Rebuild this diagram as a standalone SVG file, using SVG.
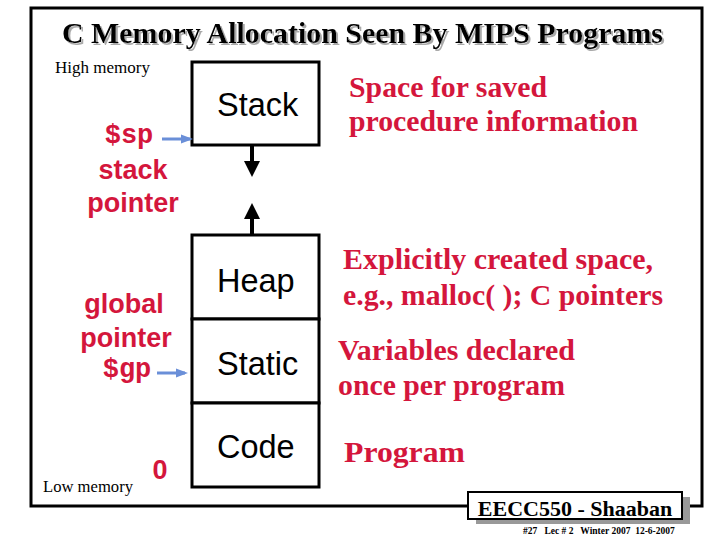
<svg xmlns="http://www.w3.org/2000/svg" width="720" height="540" viewBox="0 0 720 540">
<style>
.title{font-family:"Liberation Serif",serif;font-weight:bold;font-size:29px;fill:#000}
.mem{font-family:"Liberation Serif",serif;font-size:16px;fill:#000}
.seg{font-family:"Liberation Sans",Arial,sans-serif;font-size:32.5px;fill:#000}
.lbl{font-family:"Liberation Sans",Arial,sans-serif;font-weight:bold;font-size:27px;fill:#d4163c;text-anchor:middle}
.reg{font-family:"Liberation Mono",monospace;font-weight:bold;font-size:27px;fill:#d4163c;text-anchor:middle}
.desc{font-family:"Liberation Serif",serif;font-weight:bold;font-size:30px;fill:#d4163c}
.box{fill:#fff;stroke:#000;stroke-width:3}
.blk{stroke:#000;stroke-width:4;fill:none}
.blue{stroke:#6a8fd8;stroke-width:3;fill:none}
</style>
<defs>
<marker id="ab" markerWidth="4" markerHeight="4" refX="3" refY="2" orient="auto" markerUnits="strokeWidth"><path d="M0,0 L4,2 L0,4 Z" fill="#000"/></marker>
<marker id="ablue" markerWidth="4" markerHeight="4" refX="3" refY="2" orient="auto" markerUnits="strokeWidth"><path d="M0,0.5 L4,2 L0,3.5 Z" fill="#6a8fd8"/></marker>
<filter id="shadow" x="-5%" y="-20%" width="110%" height="150%">
<feOffset in="SourceAlpha" dx="2" dy="2" result="off"/>
<feFlood flood-color="#aaa"/>
<feComposite in2="off" operator="in" result="sh"/>
<feMerge><feMergeNode in="sh"/><feMergeNode in="SourceGraphic"/></feMerge>
</filter>
</defs>
<rect x="0" y="0" width="720" height="540" fill="#fff"/>
<g id="frame">
<path d="M468,506 L31,506 L31,8 L702,8 L702,506 L690,506" fill="none" stroke="#000" stroke-width="3"/>
</g>
<g id="title">
<text class="title" x="62" y="43" textLength="601" lengthAdjust="spacingAndGlyphs" filter="url(#shadow)">C Memory Allocation Seen By MIPS Programs</text>
</g>
<text class="mem" x="55" y="73" textLength="95" lengthAdjust="spacingAndGlyphs">High memory</text>
<text class="mem" x="43" y="492" textLength="90" lengthAdjust="spacingAndGlyphs">Low memory</text>
<g id="stack">
<rect class="box" x="192" y="62" width="127" height="83"/>
<text class="seg" x="217" y="116">Stack</text>
</g>
<g id="heap">
<rect class="box" x="192" y="235" width="127" height="84"/>
<text class="seg" x="217" y="292">Heap</text>
</g>
<g id="static">
<rect class="box" x="192" y="319" width="127" height="84"/>
<text class="seg" x="217" y="375">Static</text>
</g>
<g id="code">
<rect class="box" x="192" y="403" width="127" height="84"/>
<text class="seg" x="217" y="458">Code</text>
</g>
<g id="sp">
<text class="reg" x="129" y="143">$sp</text>
<text class="lbl" x="133" y="179">stack</text>
<text class="lbl" x="133" y="212">pointer</text>
</g>
<g id="gp">
<text class="lbl" x="124" y="313">global</text>
<text class="lbl" x="126" y="347">pointer</text>
<text class="reg" x="127" y="377">$gp</text>
</g>
<text class="lbl" x="160" y="479">0</text>
<g id="connectors">
<line class="blk" x1="252" y1="145" x2="252" y2="173" marker-end="url(#ab)"/>
<line class="blk" x1="252" y1="235" x2="252" y2="207" marker-end="url(#ab)"/>
<line class="blue" x1="162" y1="139" x2="190" y2="139" marker-end="url(#ablue)"/>
<line class="blue" x1="157" y1="373" x2="185" y2="373" marker-end="url(#ablue)"/>
</g>
<g id="descriptions">
<text class="desc" x="349" y="97" textLength="198" lengthAdjust="spacingAndGlyphs">Space for saved</text>
<text class="desc" x="349" y="131" textLength="289" lengthAdjust="spacingAndGlyphs">procedure information</text>
<text class="desc" x="343" y="269" textLength="310" lengthAdjust="spacingAndGlyphs">Explicitly created space,</text>
<text class="desc" x="343" y="305" textLength="320" lengthAdjust="spacingAndGlyphs">e.g., malloc( ); C pointers</text>
<text class="desc" x="338" y="360" textLength="237" lengthAdjust="spacingAndGlyphs">Variables declared</text>
<text class="desc" x="338" y="395" textLength="227" lengthAdjust="spacingAndGlyphs">once per program</text>
<text class="desc" x="344" y="462" textLength="121" lengthAdjust="spacingAndGlyphs">Program</text>
</g>
<g id="footer">
<rect x="476" y="497" width="214" height="27" fill="#999"/>
<rect x="468" y="492" width="214" height="27" fill="#fff" stroke="#000" stroke-width="2"/>
<text x="575" y="516" text-anchor="middle" font-family="Liberation Serif,serif" font-weight="bold" font-size="22" fill="#000">EECC550 - Shaaban</text>
<text x="523" y="534" font-family="Liberation Serif,serif" font-weight="bold" font-size="9.5" fill="#000" xml:space="preserve">#27   Lec # 2   Winter 2007  12-6-2007</text>
</g>
</svg>
